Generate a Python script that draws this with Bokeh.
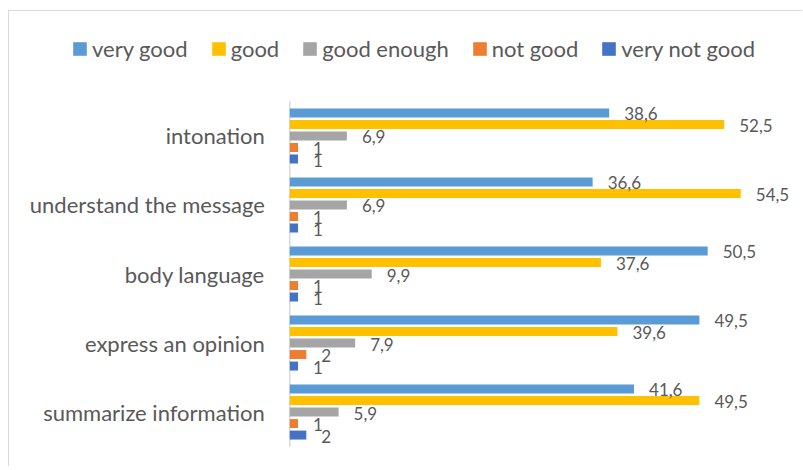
from bokeh.plotting import figure
from bokeh.models import ColumnDataSource, FactorRange, LabelSet, Legend, LegendItem
from bokeh.transform import dodge
from bokeh.core.properties import value
from bokeh.embed import file_html
from bokeh.resources import INLINE

categories = ["intonation", "understand the message", "body language",
              "express an opinion", "summarize information"]
series = ["very good", "good", "good enough", "not good", "very not good"]
very_good = [38.6, 36.6, 50.5, 49.5, 41.6]
good = [52.5, 54.5, 37.6, 39.6, 49.5]
good_enough = [6.9, 6.9, 9.9, 7.9, 5.9]
not_good = [1, 1, 1, 2, 1]
very_not_good = [1, 1, 1, 1, 2]
colors = ["#5B9BD5", "#FFC000", "#A5A5A5", "#ED7D31", "#4472C4"]

FONT = "Lato"
TEXT = "#595959"

values = [very_good, good, good_enough, not_good, very_not_good]
data = {"cat": categories}
for i, vals in enumerate(values):
    data[f"v{i}"] = vals
    data[f"l{i}"] = [f"{v:g}".replace(".", ",") for v in vals]
source = ColumnDataSource(data)

# a blank factor on top leaves room for the legend inside the frame
factors = list(reversed(categories)) + [" "]
y_range = FactorRange(*factors, range_padding=0.304, range_padding_units="absolute")

p = figure(width=794, height=456,
           y_range=y_range, x_range=(-33.87, 62.08),
           output_backend="svg", toolbar_location=None,
           x_axis_location=None, y_axis_location=None,
           min_border=0)
p.margin = (11, 0, 0, 9)
p.styles = {"box-shadow": "-1px -1px 0 #D9D9D9"}

# axis line only along the categories
p.segment(x0=[0], y0=[(categories[-1], -0.5)], x1=[0], y1=[(categories[0], 0.5)],
          line_color="#D9D9D9", line_width=1.5)

# category labels
p.add_layout(LabelSet(x=0, y="cat", text="cat", source=source, x_offset=-25,
                      text_align="right", text_baseline="middle",
                      text_font=value(FONT), text_font_size="22px",
                      text_color=TEXT))

pitch = 0.167
bar_h = 0.13
items = []
for i, name in enumerate(series):
    off = (2 - i) * pitch
    r = p.hbar(y=dodge("cat", off, range=p.y_range), left=0, right=f"v{i}",
               height=bar_h, source=source, color=colors[i], line_color=None)
    items.append(LegendItem(label=name, renderers=[r]))
    labels = LabelSet(x=f"v{i}", y=dodge("cat", off, range=p.y_range),
                      text=f"l{i}", source=source, x_offset=15, y_offset=-1,
                      text_baseline="middle", text_font=value(FONT),
                      text_font_size="17px", text_color=TEXT)
    p.add_layout(labels)

legend = Legend(items=items, location=(62, 405), orientation="horizontal",
                glyph_width=17, glyph_height=17, label_standoff=4, spacing=22,
                padding=0, margin=0, border_line_color=None,
                background_fill_alpha=0,
                label_text_font=FONT, label_text_font_size="22px",
                label_text_color=TEXT)
p.add_layout(legend, "center")

p.xgrid.visible = False
p.ygrid.visible = False
p.outline_line_color = None

open("out.html", "w").write(file_html(p, INLINE))
